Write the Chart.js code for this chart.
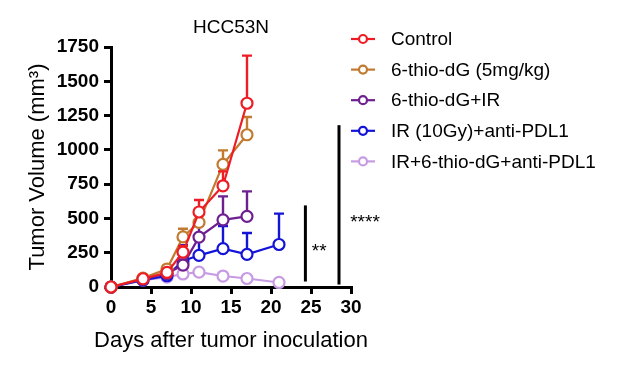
<!DOCTYPE html>
<html>
<head>
<meta charset="utf-8">
<script src="https://cdn.jsdelivr.net/npm/chart.js@4"></script>
<style>
html,body{margin:0;padding:0;background:#fff;}
#wrap{width:621px;height:373px;}
</style>
</head>
<body>
<div id="wrap"><canvas id="c" width="621" height="373"></canvas></div>
<script>
// ---- data ----
const chartTitle = 'HCC53N';
const xTitle = 'Days after tumor inoculation';
const yTitle = 'Tumor Volume (mm\u00B3)';
const seriesNames = ['Control', '6-thio-dG (5mg/kg)', '6-thio-dG+IR', 'IR (10Gy)+anti-PDL1', 'IR+6-thio-dG+anti-PDL1'];
const seriesColors = ['#ee1c24', '#c27a30', '#6e2090', '#1414d8', '#c79be3'];

const daysControl = [0, 4, 7, 9, 11, 14, 17];
const control     = [0, 60, 106, 254, 547, 738, 1340];
const controlErr  = [0, 70, 125, 300, 634, 843, 1687];

const daysThio = [0, 4, 7, 9, 11, 14, 17];
const thio     = [0, 65, 131, 365, 471, 894, 1110];
const thioErr  = [0, 75, 150, 425, 540, 996, 1240];

const daysThioIR = [0, 4, 7, 9, 11, 14, 17];
const thioIR     = [0, 55, 98, 160, 364, 490, 515];
const thioIRErr  = [0, 62, 110, 200, 450, 661, 697];

const daysIRPD = [0, 4, 7, 9, 11, 14, 17, 21];
const irPD     = [0, 50, 82, 190, 231, 280, 238, 310];
const irPDErr  = [0, 58, 95, 305, 350, 445, 394, 535];

const daysTriple = [0, 4, 7, 9, 11, 14, 17, 21];
const triple     = [0, 50, 72, 95, 109, 80, 62, 33];
const tripleErr  = [0, 55, 80, 105, 118, 88, 70, 38];

const xTicks = [0, 5, 10, 15, 20, 25, 30];
const yTicks = [0, 250, 500, 750, 1000, 1250, 1500, 1750];

// significance brackets
const sigX      = [24.3, 28.5];
const sigLow    = [40, 18];
const sigHigh   = [595, 1180];
const sigLabelX = [25.1, 29.9];
const sigLabelY = [296, 510];
const sigLabels = ['**', '****'];

const allDays = [daysControl, daysThio, daysThioIR, daysIRPD, daysTriple];
const allVals = [control, thio, thioIR, irPD, triple];
const allErr  = [controlErr, thioErr, thioIRErr, irPDErr, tripleErr];

const FONT = "'Liberation Sans', Arial, sans-serif";

const datasets = seriesNames.map((name, i) => ({
  label: name,
  data: allDays[i].map((d, j) => ({x: d, y: allVals[i][j]})),
  errTop: allErr[i],
  borderColor: seriesColors[i],
  backgroundColor: '#ffffff',
  pointBackgroundColor: '#ffffff',
  pointBorderColor: seriesColors[i],
  pointRadius: 5.5,
  pointBorderWidth: 2.2,
  borderWidth: 2.2,
  tension: 0,
  clip: false
}));

const errorBars = {
  id: 'errorBars',
  beforeDatasetDraw(chart, args) {
    const ds = chart.data.datasets[args.index];
    const meta = args.meta;
    const ys = chart.scales.y;
    const ctx = chart.ctx;
    ctx.save();
    ctx.strokeStyle = ds.borderColor;
    ctx.lineWidth = 2.4;
    meta.data.forEach((pt, j) => {
      const top = ys.getPixelForValue(ds.errTop[j]);
      if (pt.y - top < 1) return;
      ctx.beginPath();
      ctx.moveTo(pt.x, pt.y);
      ctx.lineTo(pt.x, top);
      ctx.moveTo(pt.x - 5, top);
      ctx.lineTo(pt.x + 5, top);
      ctx.stroke();
    });
    ctx.restore();
  }
};

const extras = {
  id: 'extras',
  afterDraw(chart) {
    const ctx = chart.ctx;
    const xs = chart.scales.x, ys = chart.scales.y;
    const midX = (chart.chartArea.left + chart.chartArea.right) / 2;
    ctx.save();
    // title
    ctx.fillStyle = '#000';
    ctx.font = '19px ' + FONT;
    ctx.textAlign = 'center';
    ctx.textBaseline = 'middle';
    ctx.fillText(chartTitle, midX, 28);
    // x axis title (drawn without width limit)
    ctx.font = '22px ' + FONT;
    ctx.fillText(xTitle, midX, 341);
    // significance bars
    sigX.forEach((sx, i) => {
      const px = xs.getPixelForValue(sx);
      ctx.strokeStyle = '#000';
      ctx.lineWidth = 3;
      ctx.beginPath();
      ctx.moveTo(px, ys.getPixelForValue(sigLow[i]));
      ctx.lineTo(px, ys.getPixelForValue(sigHigh[i]));
      ctx.stroke();
      ctx.font = '19px ' + FONT;
      ctx.textAlign = 'left';
      ctx.textBaseline = 'alphabetic';
      ctx.fillText(sigLabels[i], xs.getPixelForValue(sigLabelX[i]), ys.getPixelForValue(sigLabelY[i]) + 11);
    });
    // legend
    chart.data.datasets.forEach((ds, i) => {
      const y = 39 + i * 30.6;
      ctx.strokeStyle = ds.borderColor;
      ctx.lineWidth = 2.2;
      ctx.beginPath();
      ctx.moveTo(351, y);
      ctx.lineTo(375, y);
      ctx.stroke();
      ctx.beginPath();
      ctx.fillStyle = '#fff';
      ctx.arc(363, y, 4, 0, Math.PI * 2);
      ctx.fill();
      ctx.stroke();
      ctx.fillStyle = '#000';
      ctx.font = '19px ' + FONT;
      ctx.textAlign = 'left';
      ctx.textBaseline = 'middle';
      ctx.fillText(ds.label, 391, y + 1);
    });
    ctx.restore();
  }
};

const tickFont = {family: FONT, size: 19, weight: 'bold'};

new Chart(document.getElementById('c'), {
  type: 'line',
  data: {datasets},
  options: {
    responsive: false,
    devicePixelRatio: 1,
    animation: false,
    layout: {padding: {top: 47, right: 270, left: 0, bottom: 0}},
    plugins: {legend: {display: false}, title: {display: false}, tooltip: {enabled: false}},
    scales: {
      x: {
        type: 'linear', min: 0, max: 30,
        afterFit(s) { s.height = 86; },
        afterBuildTicks(s) { s.ticks = xTicks.map(v => ({value: v})); },
        ticks: {font: tickFont, color: '#000', padding: 2, maxRotation: 0, callback: v => String(v)},
        grid: {drawOnChartArea: false, color: '#000', lineWidth: 3, tickLength: 7},
        border: {display: true, color: '#000', width: 3},
        title: {display: false, text: xTitle}
      },
      y: {
        type: 'linear', min: 0, max: 1750,
        afterFit(s) { s.width = 111; },
        afterBuildTicks(s) { s.ticks = yTicks.map(v => ({value: v})); },
        ticks: {font: tickFont, color: '#000', padding: 5, callback: v => String(v)},
        grid: {drawOnChartArea: false, color: '#000', lineWidth: 3, tickLength: 7},
        border: {display: true, color: '#000', width: 3},
        title: {display: true, text: yTitle, color: '#000', font: {family: FONT, size: 22}, padding: {top: 25, bottom: 0}}
      }
    }
  },
  plugins: [errorBars, extras]
});
</script>
</body>
</html>
